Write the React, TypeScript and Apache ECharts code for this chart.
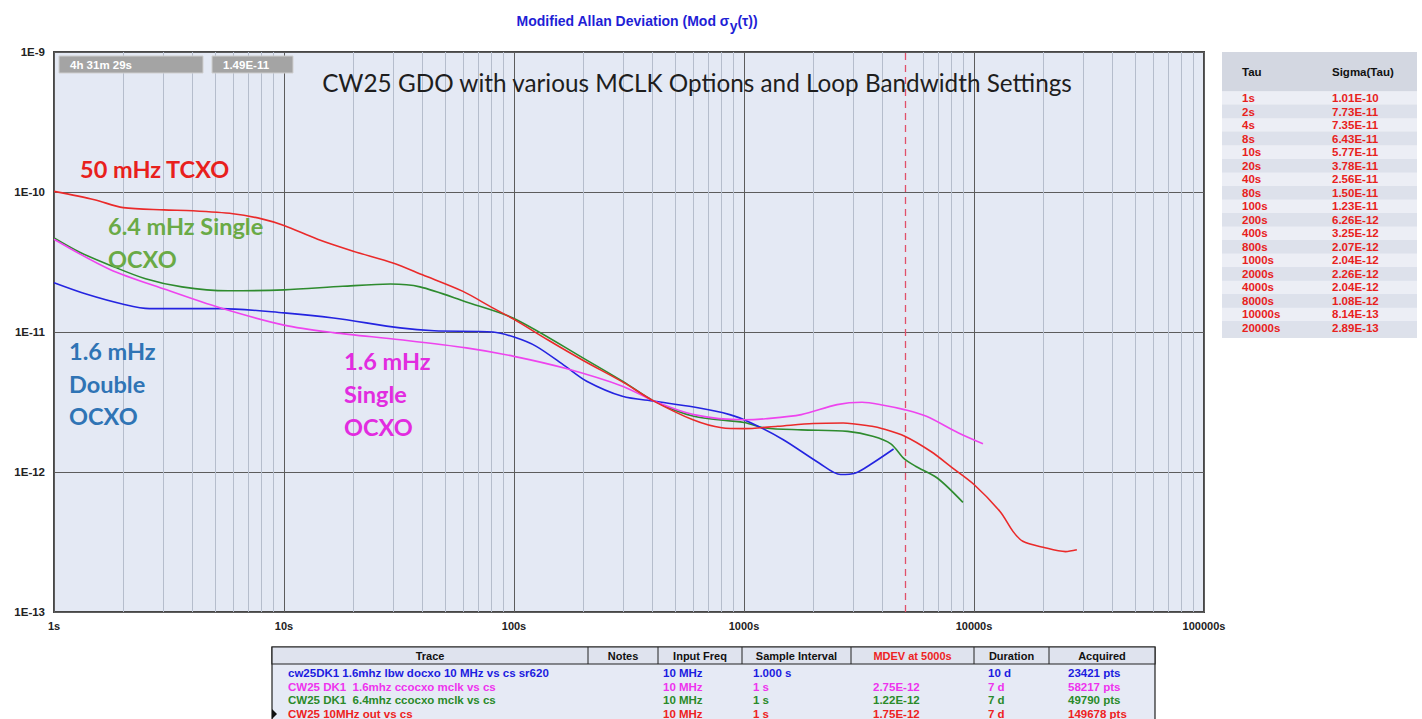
import React, { useEffect, useRef } from 'react';
import * as echarts from 'echarts';

// ---- Data ----
const redTau = [1, 1.5, 2, 3, 4, 6, 8, 10, 14, 20, 30, 40, 60, 80, 100, 140, 200, 300, 400, 600, 800, 1000, 1400, 2000, 2700, 3600, 4000, 5000, 6500, 8000, 10000, 13000, 14800, 16300, 20000, 25000, 28000];
const redSig = [1.01e-10, 8.8e-11, 7.73e-11, 7.45e-11, 7.35e-11, 7.0e-11, 6.43e-11, 5.77e-11, 4.6e-11, 3.78e-11, 3.1e-11, 2.56e-11, 1.95e-11, 1.5e-11, 1.23e-11, 8.8e-12, 6.26e-12, 4.35e-12, 3.25e-12, 2.36e-12, 2.07e-12, 2.04e-12, 2.12e-12, 2.22e-12, 2.24e-12, 2.12e-12, 2.04e-12, 1.8e-12, 1.4e-12, 1.08e-12, 8.14e-13, 5.2e-13, 3.75e-13, 3.2e-13, 2.9e-13, 2.7e-13, 2.78e-13];

const greenTau = [1, 1.3, 1.75, 2.5, 3.6, 5.7, 10, 18, 29, 39, 62, 100, 207, 300, 408, 605, 1000, 1240, 1775, 2825, 3630, 4350, 4980, 5570, 6920, 8950];
const greenSig = [4.7e-11, 3.7e-11, 3.0e-11, 2.4e-11, 2.1e-11, 1.97e-11, 2.0e-11, 2.12e-11, 2.2e-11, 2.1e-11, 1.64e-11, 1.25e-11, 6.3e-12, 4.4e-12, 3.2e-12, 2.5e-12, 2.26e-12, 2.06e-12, 2.0e-12, 1.95e-12, 1.8e-12, 1.59e-12, 1.24e-12, 1.1e-12, 9.06e-13, 6.07e-13];

const magentaTau = [1, 1.75, 3.09, 5.27, 10, 16.4, 32, 62, 100, 167, 296, 408, 605, 1000, 1240, 1775, 2540, 3260, 4040, 4980, 6210, 8570, 10940];
const magentaSig = [4.6e-11, 2.8e-11, 2.0e-11, 1.49e-11, 1.12e-11, 9.9e-12, 8.8e-12, 7.7e-12, 6.7e-12, 5.5e-12, 4.1e-12, 3.2e-12, 2.57e-12, 2.36e-12, 2.4e-12, 2.57e-12, 3.03e-12, 3.15e-12, 3.0e-12, 2.79e-12, 2.5e-12, 1.9e-12, 1.59e-12];

const blueTau = [1, 1.39, 2.0, 2.6, 5.3, 10, 16.4, 32, 45, 81, 100, 125, 167, 207, 296, 408, 605, 867, 1075, 1482, 2120, 2630, 3035, 3630, 4470];
const blueSig = [2.25e-11, 1.86e-11, 1.58e-11, 1.47e-11, 1.47e-11, 1.37e-11, 1.26e-11, 1.07e-11, 1.02e-11, 1.0e-11, 9.2e-12, 7.9e-12, 5.7e-12, 4.45e-12, 3.47e-12, 3.2e-12, 2.91e-12, 2.57e-12, 2.24e-12, 1.7e-12, 1.16e-12, 9.6e-13, 9.8e-13, 1.16e-12, 1.46e-12];

const markerTau = 5000;

const tableTau = ['1s', '2s', '4s', '8s', '10s', '20s', '40s', '80s', '100s', '200s', '400s', '800s', '1000s', '2000s', '4000s', '8000s', '10000s', '20000s'];
const tableSigma = ['1.01E-10', '7.73E-11', '7.35E-11', '6.43E-11', '5.77E-11', '3.78E-11', '2.56E-11', '1.50E-11', '1.23E-11', '6.26E-12', '3.25E-12', '2.07E-12', '2.04E-12', '2.26E-12', '2.04E-12', '1.08E-12', '8.14E-13', '2.89E-13'];

const traceHeaders = ['Trace', 'Notes', 'Input Freq', 'Sample Interval', 'MDEV at 5000s', 'Duration', 'Acquired'];
const traceNames = ['cw25DK1 1.6mhz lbw docxo 10 MHz vs cs sr620', 'CW25 DK1  1.6mhz ccocxo mclk vs cs', 'CW25 DK1  6.4mhz ccocxo mclk vs cs', 'CW25 10MHz out vs cs'];
const traceFreq = ['10 MHz', '10 MHz', '10 MHz', '10 MHz'];
const traceInterval = ['1.000 s', '1 s', '1 s', '1 s'];
const traceMdev = ['', '2.75E-12', '1.22E-12', '1.75E-12'];
const traceDuration = ['10 d', '7 d', '7 d', '7 d'];
const traceAcquired = ['23421 pts', '58217 pts', '49790 pts', '149678 pts'];
const traceColors = ['#1c1ce0', '#ee33ee', '#2a8a2a', '#ee2222'];

const infoBoxes = ['4h 31m 29s', '1.49E-11'];
const chartNote = 'CW25 GDO with various MCLK Options and Loop Bandwidth Settings';

const pairs = (t: number[], s: number[]) => t.map((v, i) => [v, s[i]]);

export default function App() {
  const ref = useRef<HTMLDivElement>(null);
  useEffect(() => {
    document.body.style.margin = '0';
    const chart = echarts.init(ref.current!, null, { renderer: 'svg' });

    const minorX: any[] = [];
    [1, 10, 100, 1000, 10000].forEach((d) => {
      for (let m = 2; m <= 9; m++) if (d * m !== markerTau) minorX.push({ xAxis: d * m });
    });
    const minorY: any[] = [];
    [1e-13, 1e-12, 1e-11, 1e-10].forEach((d) => {
      for (let m = 2; m <= 9; m++) minorY.push({ yAxis: d * m });
    });

    const font = 'Liberation Sans';
    const g: any[] = [];

    // info boxes
    const boxX = [59, 212];
    const boxW = [144, 81];
    infoBoxes.forEach((t, i) => {
      g.push({ type: 'rect', shape: { x: boxX[i], y: 56, width: boxW[i], height: 17 }, style: { fill: '#a4a4a4', stroke: '#cfcfcf', lineWidth: 1 }, z: 50 });
      g.push({ type: 'text', x: boxX[i] + 11, y: 65, style: { text: t, fill: '#ffffff', font: `bold 11.5px ${font}`, verticalAlign: 'middle' }, z: 51 });
    });

    g.push({ type: 'text', x: 697, y: 82, style: { text: chartNote, fill: '#1e1e1e', font: `24.3px Lato`, align: 'center', verticalAlign: 'middle' }, z: 50 });

    const lab = (lines: string[], x: number, y0: number, step: number, color: string) => {
      lines.forEach((l, i) => g.push({ type: 'text', x, y: y0 + i * step, style: { text: l, fill: color, font: `bold 23.5px Lato`, verticalAlign: 'middle' }, z: 50 }));
    };
    lab(['50 mHz TCXO'], 80, 169, 0, '#e8201c');
    lab(['6.4 mHz Single', 'OCXO'], 108, 226, 33, '#6aaa46');
    lab(['1.6 mHz', 'Double', 'OCXO'], 69, 351, 32.5, '#2f74b5');
    lab(['1.6 mHz', 'Single', 'OCXO'], 344, 361, 33, '#e22ce0');

    // right table
    const tX = 1222, tY = 52, tW = 195, tH = 286;
    g.push({ type: 'rect', shape: { x: tX, y: tY, width: tW, height: tH }, style: { fill: '#dde1ea' } });
    g.push({ type: 'rect', shape: { x: tX, y: tY, width: tW, height: 39 }, style: { fill: '#d3d7e1' } });
    g.push({ type: 'text', x: 1242, y: 72, style: { text: 'Tau', fill: '#111', font: `bold 11.5px ${font}`, verticalAlign: 'middle' } });
    g.push({ type: 'text', x: 1332, y: 72, style: { text: 'Sigma(Tau)', fill: '#111', font: `bold 11.5px ${font}`, verticalAlign: 'middle' } });
    const rowStep = 13.53;
    tableTau.forEach((t, i) => {
      const cy = 98 + i * rowStep;
      g.push({ type: 'rect', shape: { x: tX, y: cy - rowStep / 2, width: tW, height: rowStep }, style: { fill: i % 2 === 0 ? '#eceef5' : '#dde1eb' } });
      g.push({ type: 'text', x: 1242, y: cy, style: { text: t, fill: '#e8211d', font: `bold 11.5px ${font}`, verticalAlign: 'middle' } });
      g.push({ type: 'text', x: 1332, y: cy, style: { text: tableSigma[i], fill: '#e8211d', font: `bold 11.5px ${font}`, verticalAlign: 'middle' } });
    });

    // bottom table
    const bx = 272, by = 647, bw = 883;
    const colEdges = [272, 588, 658, 742, 851, 974, 1049, 1155];
    g.push({ type: 'rect', shape: { x: bx, y: by, width: bw, height: 90 }, style: { fill: '#e6eaf5', stroke: '#222', lineWidth: 1.2 } });
    g.push({ type: 'rect', shape: { x: bx, y: by, width: bw, height: 17 }, style: { fill: '#dfe3ee', stroke: '#222', lineWidth: 1.2 } });
    for (let i = 1; i < colEdges.length - 1; i++) {
      g.push({ type: 'line', shape: { x1: colEdges[i], y1: by, x2: colEdges[i], y2: by + 17 }, style: { stroke: '#222', lineWidth: 1 } });
    }
    traceHeaders.forEach((h, i) => {
      g.push({ type: 'text', x: (colEdges[i] + colEdges[i + 1]) / 2, y: by + 9, style: { text: h, fill: i === 4 ? '#ee2222' : '#111', font: `bold 11px ${font}`, align: 'center', verticalAlign: 'middle' } });
    });
    const colX = [288, 0, 663, 753, 873, 988, 1068];
    traceNames.forEach((n, r) => {
      const cy = 673 + r * 13.7;
      const c = traceColors[r];
      const cells = [n, '', traceFreq[r], traceInterval[r], traceMdev[r], traceDuration[r], traceAcquired[r]];
      cells.forEach((txt, ci) => {
        if (!txt) return;
        g.push({ type: 'text', x: colX[ci], y: cy, style: { text: txt, fill: c, font: `bold 11.5px ${font}`, verticalAlign: 'middle' } });
      });
    });
    g.push({ type: 'polygon', shape: { points: [[272, 709], [277, 714], [272, 719]] }, style: { fill: '#111' } });

    const lineSeries = (name: string, data: number[][], color: string) => ({
      name, type: 'line', data, showSymbol: false, smooth: 0.3, z: 5,
      lineStyle: { color, width: 1.6 }, itemStyle: { color }, silent: true,
    });

    const option: any = {
      animation: false,
      backgroundColor: '#ffffff',
      title: {
        text: 'Modified Allan Deviation (Mod σ{sub|y}(τ))',
        left: 632, top: 4, textAlign: 'center',
        textStyle: {
          color: '#1f1fd6', fontSize: 14, fontWeight: 'bold', fontFamily: font,
          rich: { sub: { fontSize: 14, fontWeight: 'bold', color: '#1f1fd6', fontFamily: font, padding: [10, 0, 0, 0] } },
        },
      },
      grid: { left: 54, top: 52, width: 1150, height: 560, show: true, backgroundColor: '#e4e9f4', borderColor: '#474747', borderWidth: 2 },
      xAxis: {
        type: 'log', logBase: 10, min: 1, max: 100000, splitNumber: 5,
        axisLine: { show: false }, axisTick: { show: false },
        axisLabel: { formatter: (v: number) => Math.round(v) + 's', color: '#222', fontWeight: 'bold', fontSize: 11, fontFamily: font, margin: 8 },
        splitLine: { show: true, lineStyle: { color: '#5c5c5c', width: 1 } },
      },
      yAxis: {
        type: 'log', logBase: 10, min: 1e-13, max: 1e-9, splitNumber: 4,
        axisLine: { show: false }, axisTick: { show: false },
        axisLabel: { formatter: (v: number) => '1E-' + Math.round(-Math.log10(v)), color: '#222', fontWeight: 'bold', fontSize: 11.5, fontFamily: font, margin: 9 },
        splitLine: { show: true, lineStyle: { color: '#5c5c5c', width: 1 } },
      },
      series: [
        {
          name: 'grid', type: 'line', data: [[1, 1e-13]], showSymbol: false, silent: true, z: 1,
          lineStyle: { width: 0 },
          markLine: {
            silent: true, symbol: ['none', 'none'], label: { show: false }, animation: false,
            lineStyle: { color: '#b5bdcc', width: 1, type: 'solid' },
            emphasis: { disabled: true },
            data: [...minorX, ...minorY],
          },
        },
        {
          name: 'marker', type: 'line', data: [[1, 1e-13]], showSymbol: false, silent: true, z: 4,
          lineStyle: { width: 0 },
          markLine: {
            silent: true, symbol: ['none', 'none'], label: { show: false }, animation: false,
            lineStyle: { color: '#e0506a', width: 1.3, type: [7, 5], opacity: 1 },
            emphasis: { disabled: true },
            data: [{ xAxis: markerTau }],
          },
        },
        lineSeries('CW25 DK1 6.4mhz', pairs(greenTau, greenSig), '#2e8b2e'),
        lineSeries('cw25DK1 1.6mhz docxo', pairs(blueTau, blueSig), '#2424e0'),
        lineSeries('CW25 DK1 1.6mhz', pairs(magentaTau, magentaSig), '#ee44ee'),
        lineSeries('CW25 10MHz out', pairs(redTau, redSig), '#ea2a2a'),
      ],
      graphic: g,
    };
    chart.setOption(option);
    return () => chart.dispose();
  }, []);
  return <div ref={ref} style={{ width: 1422, height: 719 }} />;
}
